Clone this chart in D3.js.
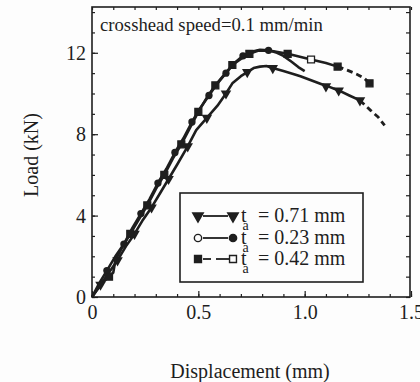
<!DOCTYPE html>
<html><head><meta charset="utf-8">
<script src="https://cdn.jsdelivr.net/npm/d3@7/dist/d3.min.js"></script>
<style>
body{margin:0;background:#fdfdfd;}
svg{display:block;font-family:"Liberation Serif","Times New Roman",serif;}
</style></head>
<body><svg id="c" width="420" height="382"></svg>
<script>
// ---- data ----
const xTicks = [0, 0.5, 1.0, 1.5];
const xTickLabels = ["0", "0.5", "1.0", "1.5"];
const yTicks = [0, 4, 8, 12];
const yTickLabels = ["0", "4", "8", "12"];
const seriesNames = ["t_a = 0.71 mm", "t_a = 0.23 mm", "t_a = 0.42 mm"];
const legendValues = ["= 0.71 mm", "= 0.23 mm", "= 0.42 mm"];

// t_a = 0.71 mm (triangles)
const dispA = [0,0.04,0.08,0.12,0.16,0.2,0.24,0.28,0.32,0.36,0.4,0.45,0.49,0.54,0.59,0.63,0.66,0.7,0.73,0.76,0.79,0.82,0.85,0.9,0.95,0.98,1.03,1.08,1.11,1.16,1.21,1.26,1.31,1.345,1.376];
const loadA = [0,0.6,1.2,1.8,2.5,3.1,3.8,4.4,5.1,5.8,6.5,7.4,8.2,8.8,9.4,10.0,10.5,10.85,11.05,11.25,11.32,11.35,11.25,11.1,10.95,10.85,10.65,10.45,10.35,10.15,9.9,9.66,9.17,8.85,8.43];
const markA_x = [0.04,0.12,0.2,0.28,0.36,0.45,0.54,0.63,0.73,0.85,1.1,1.16,1.26];
const markA_y = [0.6,1.8,3.1,4.4,5.8,7.4,8.8,10.0,11.05,11.25,10.35,10.15,9.66];

// t_a = 0.23 mm (circles)
const dispB = [0,0.03,0.07,0.11,0.15,0.19,0.23,0.27,0.31,0.35,0.39,0.43,0.47,0.51,0.55,0.59,0.63,0.67,0.71,0.75,0.79,0.83,0.87,0.9,0.94,0.97,1.0];
const loadB = [0,0.6,1.3,2.0,2.6,3.4,4.1,4.8,5.6,6.3,7.1,7.8,8.6,9.3,9.9,10.5,11.0,11.5,11.85,12.05,12.15,12.12,12.0,11.85,11.55,11.3,11.1];
const markB_x = [0.07,0.15,0.23,0.31,0.39,0.47,0.55,0.63,0.71,0.83];
const markB_y = [1.3,2.6,4.1,5.6,7.1,8.6,9.9,11.0,11.85,12.12];

// t_a = 0.42 mm (squares)
const dispC = [0,0.02,0.05,0.08,0.1,0.11,0.14,0.18,0.22,0.26,0.3,0.34,0.38,0.42,0.46,0.5,0.54,0.58,0.62,0.66,0.7,0.74,0.78,0.84,0.92,1.03,1.1,1.155,1.2,1.245,1.28,1.305];
const loadC = [0,0.3,0.7,1.0,1.2,1.8,2.4,3.1,3.8,4.5,5.3,6.0,6.8,7.5,8.3,9.1,9.8,10.4,10.9,11.4,11.7,11.95,12.1,12.1,11.95,11.67,11.5,11.32,11.15,10.95,10.75,10.5];
const markC_x = [0.08,0.18,0.26,0.34,0.42,0.5,0.58,0.66,0.74,0.92,1.03,1.155,1.305];
const markC_y = [1.0,3.1,4.5,6.0,7.5,9.1,10.4,11.4,11.95,11.95,11.67,11.32,10.5];
const markC_open = [false,false,false,false,false,false,false,false,false,false,true,false,false];

// ---- layout ----
const W = 420, H = 382;
const svg = d3.select("#c");
svg.append("rect").attr("width", W).attr("height", H).attr("fill", "#fdfdfd");
const x = d3.scaleLinear().domain([0, 1.5]).range([92, 411]);
const y = d3.scaleLinear().domain([0, 14.25]).range([297, 7]);
const ink = "#1e1e1e";
const fs = 20;

const pLeft = 92, pRight = 410, pTop = 7, pBottom = 297;
const g = svg.append("g");

// axes
const xAxis = d3.axisBottom(x).tickValues(xTicks).tickFormat((d,i)=>xTickLabels[i]).tickSize(-6).tickPadding(8);
g.append("g").attr("transform", `translate(0,${pBottom})`).call(xAxis);
g.append("g").attr("transform", `translate(0,${pBottom})`).call(d3.axisBottom(x).tickValues(d3.range(0, 1.5001, 0.1)).tickFormat("").tickSize(-3));
g.append("g").attr("transform", `translate(0,${pTop})`).call(d3.axisTop(x).tickValues(d3.range(0,1.5001,0.1)).tickFormat("").tickSize(-3));

const yAxis = d3.axisLeft(y).tickValues(yTicks).tickFormat((d,i)=>yTickLabels[i]).tickSize(-6).tickPadding(6);
g.append("g").attr("transform", `translate(${pLeft},0)`).call(yAxis);
g.append("g").attr("transform", `translate(${pLeft},0)`).call(d3.axisLeft(y).tickValues(d3.range(0,14.01,1)).tickFormat("").tickSize(-3));
g.append("g").attr("transform", `translate(${pRight},0)`).call(d3.axisRight(y).tickValues(d3.range(0,14.01,1)).tickFormat("").tickSize(-4));

g.selectAll(".domain").remove();
g.selectAll(".tick line").attr("stroke", ink).attr("stroke-width", 1.2);
g.selectAll(".tick text").attr("font-size", fs).attr("font-family", "Liberation Serif").attr("fill", ink);

svg.append("rect").attr("x", pLeft).attr("y", pTop).attr("width", pRight-pLeft).attr("height", pBottom-pTop)
  .attr("fill", "none").attr("stroke", ink).attr("stroke-width", 1.6);

// axis titles
svg.append("text").attr("x", 250).attr("y", 378).attr("text-anchor", "middle")
  .attr("font-size", fs).attr("fill", ink).text("Displacement  (mm)");
svg.append("text").attr("transform", "translate(38,155) rotate(-90)").attr("text-anchor", "middle")
  .attr("font-size", fs).attr("fill", ink).text("Load  (kN)");

// annotation
svg.append("text").attr("x", 100).attr("y", 31).attr("font-size", 18.7).attr("fill", ink)
  .text("crosshead speed=0.1 mm/min");

// curves
const line = d3.line().x(d=>x(d[0])).y(d=>y(d[1])).curve(d3.curveLinear);
function drawSeries(dx, dy, dashFrom) {
  const pts = dx.map((d,i)=>[d, dy[i]]);
  const solid = pts.filter(p=>p[0] <= dashFrom);
  const dashed = pts.filter(p=>p[0] >= solid[solid.length-1][0]);
  svg.append("path").attr("d", line(solid)).attr("fill","none").attr("stroke",ink).attr("stroke-width",2.6).attr("stroke-linejoin","round");
  if (dashed.length > 1)
    svg.append("path").attr("d", line(dashed)).attr("fill","none").attr("stroke",ink).attr("stroke-width",2.8).attr("stroke-dasharray","6,4");
}
drawSeries(dispA, loadA, 1.3);
drawSeries(dispB, loadB, 9);
drawSeries(dispC, loadC, 1.16);

const tri = d3.symbol().type(d3.symbolTriangle).size(48);
const circ = d3.symbol().type(d3.symbolCircle).size(42);
const sq = d3.symbol().type(d3.symbolSquare).size(48);

svg.selectAll(".mA").data(markA_x).join("path")
  .attr("d", tri).attr("transform", (d,i)=>`translate(${x(d)},${y(markA_y[i])}) rotate(180)`).attr("fill", ink);
svg.selectAll(".mB").data(markB_x).join("path")
  .attr("d", circ).attr("transform", (d,i)=>`translate(${x(d)},${y(markB_y[i])})`).attr("fill", ink);
svg.selectAll(".mC").data(markC_x).join("path")
  .attr("d", sq).attr("transform", (d,i)=>`translate(${x(d)},${y(markC_y[i])})`)
  .attr("fill", (d,i)=>markC_open[i] ? "#fdfdfd" : ink).attr("stroke", ink).attr("stroke-width", 1.3);

// legend
const lg = svg.append("g");
lg.append("rect").attr("x", 180).attr("y", 193).attr("width", 183).attr("height", 89)
  .attr("fill", "#fdfdfd").attr("stroke", ink).attr("stroke-width", 1.6);
const rows = [216, 238, 259];
rows.forEach((ry, i) => {
  if (i === 2) {
    lg.append("line").attr("x1",203).attr("x2",211).attr("y1",ry).attr("y2",ry).attr("stroke",ink).attr("stroke-width",1.8);
    lg.append("line").attr("x1",216).attr("x2",229).attr("y1",ry).attr("y2",ry).attr("stroke",ink).attr("stroke-width",1.8);
  } else {
    lg.append("line").attr("x1",203).attr("x2",228).attr("y1",ry).attr("y2",ry).attr("stroke",ink).attr("stroke-width",1.8);
  }
  const sym = i === 0 ? tri : (i === 1 ? circ : sq);
  const rot = i === 0 ? " rotate(180)" : "";
  const leftOpen = i === 1, rightOpen = i === 2;
  lg.append("path").attr("d", sym).attr("transform", `translate(198,${ry})${rot}`)
    .attr("fill", leftOpen ? "#fdfdfd" : ink).attr("stroke", ink).attr("stroke-width", 1.4);
  lg.append("path").attr("d", sym).attr("transform", `translate(233,${ry})${rot}`)
    .attr("fill", rightOpen ? "#fdfdfd" : ink).attr("stroke", ink).attr("stroke-width", 1.4);
  const t = lg.append("text").attr("x", 241).attr("y", ry+6).attr("font-size", fs).attr("fill", ink);
  t.append("tspan").text("t");
  t.append("tspan").attr("font-size", 14).attr("dx", -4).attr("dy", 8).text("a");
  t.append("tspan").attr("x", 258).attr("dy", -8).text(legendValues[i]);
});
</script></body></html>
